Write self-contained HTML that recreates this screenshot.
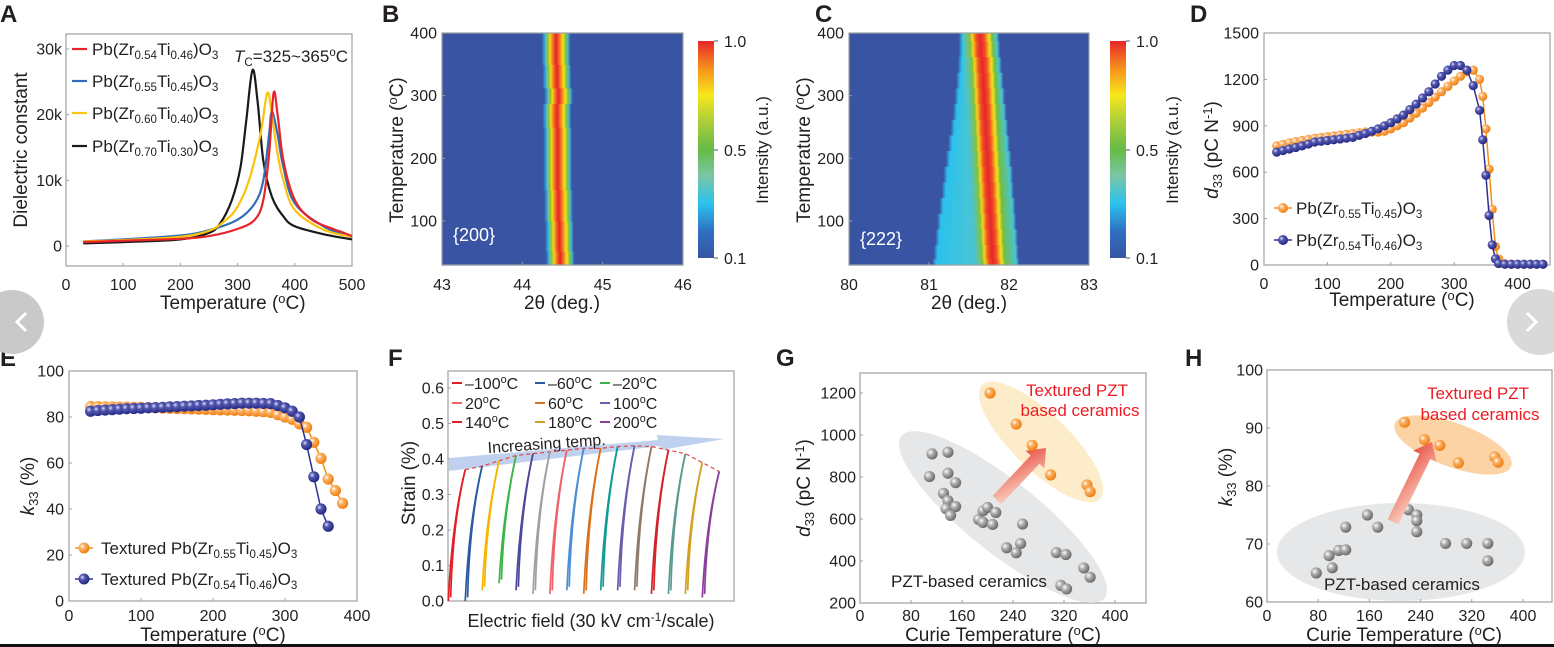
<!DOCTYPE html>
<html><head><meta charset="utf-8"><style>
html,body{margin:0;padding:0;background:#fff;}
svg{display:block;font-family:"Liberation Sans",sans-serif;}
text{fill:#231f20;}
</style></head><body>
<svg id="fig" width="1554" height="647" viewBox="0 0 1554 647" xmlns="http://www.w3.org/2000/svg">
<defs>
<radialGradient id="gOr" cx="35%" cy="35%" r="65%"><stop offset="0" stop-color="#fff"/><stop offset="0.35" stop-color="#fbb266"/><stop offset="1" stop-color="#f07f10"/></radialGradient>
<radialGradient id="gBl" cx="35%" cy="35%" r="65%"><stop offset="0" stop-color="#dfe0f5"/><stop offset="0.35" stop-color="#5458b0"/><stop offset="1" stop-color="#232a84"/></radialGradient>
<radialGradient id="gGr" cx="35%" cy="35%" r="65%"><stop offset="0" stop-color="#fff"/><stop offset="0.4" stop-color="#b0b0b0"/><stop offset="1" stop-color="#6b6b6b"/></radialGradient>
<linearGradient id="cbar" x1="0" y1="1" x2="0" y2="0"><stop offset="0" stop-color="#3a54a4"/><stop offset="0.12" stop-color="#2f6fc0"/><stop offset="0.25" stop-color="#2bc2ee"/><stop offset="0.38" stop-color="#7cc6a4"/><stop offset="0.5" stop-color="#66bb46"/><stop offset="0.62" stop-color="#a6cc3c"/><stop offset="0.75" stop-color="#f6e81a"/><stop offset="0.87" stop-color="#f7941d"/><stop offset="1" stop-color="#e8252a"/></linearGradient>
<linearGradient id="arrG" x1="0" y1="1" x2="1" y2="0"><stop offset="0" stop-color="#fbe3cf"/><stop offset="1" stop-color="#e8453c"/></linearGradient>
</defs>
</svg>
<script>
// ---------- DATA ----------
const aRedT=[30,100,200,250,300,330,345,355,363,370,380,400,430,470,480,500];
const aRedV=[0.6,0.8,1.1,1.5,2.6,4,7,14,23.3,20,13,7,4,2.5,2.2,1.5];
const aBluT=[30,100,200,250,300,330,345,355,360,370,380,400,450,500];
const aBluV=[0.7,1.0,1.6,2.4,4,6.5,10,17,20.5,17,12,6.5,3,1.3];
const aYelT=[30,100,200,250,280,300,320,340,352,360,370,380,400,450,500];
const aYelV=[0.7,0.9,1.4,2.3,4,6,10,17,23.3,20,14,10,5.5,2.5,1.4];
const aBlkT=[30,100,200,250,270,290,305,315,326,335,345,360,380,400,450,500];
const aBlkV=[0.4,0.6,1.0,2,3.5,7,12,19,26.8,22,13,7.5,4.5,3,1.8,1];
const aXTicks=[0,100,200,300,400,500];
const aYTicks=[0,10,20,30];
const aYLabels=['0','10k','20k','30k'];

const bRowT=[30,75,125,175,225,275,300,325,375,400];
const bCenter=[44.47,44.46,44.45,44.44,44.44,44.43,44.45,44.43,44.42,44.42];
const cRowT=[30,50,75,100,125,150,175,200,225,250,275,300,325,350,375,400];
const cCenter=[81.8,81.79,81.78,81.77,81.76,81.75,81.74,81.73,81.72,81.71,81.7,81.69,81.68,81.67,81.65,81.64];
const cLeft=[81.06,81.08,81.1,81.12,81.15,81.18,81.2,81.23,81.26,81.29,81.32,81.34,81.36,81.38,81.39,81.39];
const cRight=[82.12,82.11,82.1,82.08,82.07,82.05,82.04,82.02,82.0,81.98,81.96,81.94,81.92,81.9,81.88,81.87];

const dOrT=[20,30,40,50,60,70,80,90,100,110,120,130,140,150,160,170,180,190,200,210,220,230,240,250,260,270,280,290,300,310,320,330,340,345,350,355,360,365,370,375,380,390,400,410,420,430,440];
const dOrV=[770,780,790,798,805,812,820,825,830,835,840,845,850,855,860,860,860,865,880,900,920,950,980,1015,1050,1085,1120,1155,1190,1220,1250,1260,1200,1090,880,620,360,120,40,15,8,5,5,5,5,5,5];
const dBlT=[20,30,40,50,60,70,80,90,100,110,120,130,140,150,160,170,180,190,200,210,220,230,240,250,260,270,280,290,300,310,320,330,340,345,350,355,360,365,370,380,390,400,410,420,430,440];
const dBlV=[730,740,750,760,770,782,795,800,805,810,815,820,825,838,850,865,880,900,920,945,970,1005,1040,1080,1120,1170,1220,1260,1290,1290,1260,1160,1000,810,580,320,130,40,10,5,5,5,5,5,5,5];

const eOrT=[30,40,50,60,70,80,90,100,110,120,130,140,150,160,170,180,190,200,210,220,230,240,250,260,270,280,290,300,310,320,330,340,350,360,370,380];
const eOrV=[84.5,84.5,84.4,84.4,84.3,84.3,84.2,84.2,84.1,84.0,83.9,83.8,83.7,83.6,83.5,83.4,83.3,83.2,83.1,83.0,82.9,82.8,82.7,82.5,82.3,82,81,80,79,77,75.5,69,62,53,48,42.5];
const eBlT=[30,40,50,60,70,80,90,100,110,120,130,140,150,160,170,180,190,200,210,220,230,240,250,260,270,280,290,300,310,320,330,340,350,360];
const eBlV=[82.5,82.8,83,83.2,83.4,83.6,83.7,83.8,84,84.1,84.2,84.4,84.5,84.7,84.8,85,85.1,85.3,85.5,85.7,85.8,86,86,86,85.9,85.8,85,84,82.5,80,68,54,40,32.5];

const fPeaks=[0.37,0.38,0.395,0.41,0.415,0.42,0.425,0.43,0.43,0.435,0.437,0.435,0.425,0.415,0.39,0.365];
const fStart=[0.0,0.0,0.03,0.05,0.03,0.02,0.02,0.03,0.02,0.03,0.03,0.03,0.02,0.02,0.02,0.01];
const fColors=['#e31e24','#2b5aa3','#f7b500','#3bb54a','#4b4a9a','#a0a0a0','#f0626a','#4a8fd6','#d9711c','#119c94','#6a5cae','#8d7a6b','#d2232a','#5a9a90','#d4a020','#8a3f9a'];
const fYTicks=[0,0.1,0.2,0.3,0.4,0.5,0.6];

const gGrayT=[113,138,109,138,150,131,138,135,150,142,186,193,200,213,193,208,255,230,252,245,308,323,315,324,351,361];
const gGrayV=[910,918,802,818,773,722,687,649,659,617,598,639,655,631,584,574,576,463,483,439,440,431,284,267,367,323];
const gOrT=[204,245,270,299,356,361];
const gOrV=[1200,1052,951,810,762,730];
const hGrayT=[77,97,102,112,123,123,157,173,221,234,234,234,279,312,345,345];
const hGrayV=[65,68,65.9,68.9,69,72.9,75,72.9,75.9,75,74,72.1,70.1,70.1,70.1,67.1];
const hOrT=[215,246,270,299,356,361];
const hOrV=[91,88,87,84,85,84.1];
const curieTicks=[0,80,160,240,320,400];

// ---------- HELPERS ----------
const NS='http://www.w3.org/2000/svg';
const svg=document.getElementById('fig');
function mk(tag,attrs,parent){const e=document.createElementNS(NS,tag);for(const k in attrs)e.setAttribute(k,attrs[k]);(parent||svg).appendChild(e);return e;}
function txt(parent,x,y,s,size,anchor,name){const t=mk('text',{x:x,y:y,'font-size':size,'text-anchor':anchor||'middle'},parent);t.textContent=s;


return t;}
function rich(parent,x,y,parts,size,anchor,name,rot){
 const t=mk('text',{x:x,y:y,'font-size':size,'text-anchor':anchor||'start'},parent);
 if(rot)t.setAttribute('transform','rotate(-90 '+x+' '+y+')');
 
 
 let state=0;
 parts.forEach(p=>{const ts=mk('tspan',{},t);ts.textContent=p[0];
  const want=p[1];let dy=0;
  if(want===1&&state===0)dy=4; if(want===0&&state===1)dy=-4;
  if(want===2&&state===0)dy=-6; if(want===0&&state===2)dy=6;
  if(want===1&&state===2)dy=10; if(want===2&&state===1)dy=-10;
  if(dy)ts.setAttribute('dy',dy);
  if(want===1||want===2)ts.setAttribute('font-size',size*0.68);
  if(p[2])ts.setAttribute('font-style','italic');
  state=want;});
 return t;}
function group(name){const g=mk('g',{});


return g;}
function box(g,l,t,r,b){const e=mk('rect',{x:l,y:t,width:r-l,height:b-t,fill:'none',stroke:'#9d9fa2','stroke-width':1.2},g);

}
function xTicks(g,vals,labels,xm,b,ly,size){vals.forEach((v,i)=>{const x=xm(v);
 const tk=mk('line',{x1:x,x2:x,y1:b,y2:b-3,stroke:'#9d9fa2'},g);
 
 
 txt(g,x,ly,labels[i],size||16,'middle','x-tick-label');});}
function yTicks(g,vals,labels,ym,l,lx,size){vals.forEach((v,i)=>{const y=ym(v);
 const tk=mk('line',{x1:l,x2:l+3,y1:y,y2:y,stroke:'#9d9fa2'},g);
 
 
 txt(g,lx,y+5.5,labels[i],size||16,'end','y-tick-label');});}
function line(g,T,V,xm,ym,color,w,name){const d=T.map((t,i)=>(i?'L':'M')+xm(t).toFixed(1)+' '+ym(V[i]).toFixed(1)).join(' ');
 const p=mk('path',{d:d,fill:'none',stroke:color,'stroke-width':w||2,'stroke-linejoin':'round'},g);
 
 return p;}
function smooth(g,T,V,xm,ym,color,w,name){const P=T.map((t,i)=>[xm(t),ym(V[i])]);
 let d='M'+P[0][0].toFixed(1)+' '+P[0][1].toFixed(1);
 for(let i=0;i<P.length-1;i++){const p0=P[Math.max(0,i-1)],p1=P[i],p2=P[i+1],p3=P[Math.min(P.length-1,i+2)];
  const c1=[p1[0]+(p2[0]-p0[0])/6,p1[1]+(p2[1]-p0[1])/6],c2=[p2[0]-(p3[0]-p1[0])/6,p2[1]-(p3[1]-p1[1])/6];
  d+=' C'+c1.map(v=>v.toFixed(1)).join(' ')+' '+c2.map(v=>v.toFixed(1)).join(' ')+' '+p2[0].toFixed(1)+' '+p2[1].toFixed(1);}
 const p=mk('path',{d:d,fill:'none',stroke:color,'stroke-width':w||2,'stroke-linejoin':'round'},g);
 
 return p;}
function dots(g,T,V,xm,ym,fill,r,name){T.forEach((t,i)=>{const c=mk('circle',{cx:xm(t),cy:ym(V[i]),r:r,fill:fill},g);
 
 });}
function letter(x,y,s){const t=txt(svg,x,y,s,24,'start','panel-letter-'+s.toLowerCase());t.setAttribute('font-weight','bold');}
function jet(v){const st=[[0,[58,84,164]],[0.12,[47,111,192]],[0.25,[43,194,238]],[0.38,[124,198,164]],[0.5,[102,187,70]],[0.62,[166,204,60]],[0.75,[246,232,26]],[0.87,[247,148,29]],[1,[232,37,42]]];
 for(let i=1;i<st.length;i++){if(v<=st[i][0]){const a=st[i-1],b=st[i],f=(v-a[0])/(b[0]-a[0]);return 'rgb('+a[1].map((c,k)=>Math.round(c+(b[1][k]-c)*f)).join(',')+')';}}return 'rgb(232,37,42)';}
let gid=0;
function heatRow(g,l,r,xmin,xmax,y0,y1,left,center,right,shoulder,gw,rw){
 const id='hg'+(gid++);const lg=mk('linearGradient',{id:id,gradientUnits:'userSpaceOnUse',x1:l,x2:r,y1:0,y2:0},svg.querySelector('defs'));
 const stops=[[left-0.02,0],[left+0.03,0.25],[center-gw,shoulder],[center-0.08-rw,0.55],[center-0.05-rw,0.78],[center-rw,0.95],[center,1],[center+rw,0.95],[center+0.06+rw,0.76],[center+0.1+rw,0.52],[right-0.03,0.3],[right+0.01,0]];
 stops.forEach(s=>{mk('stop',{offset:Math.max(0,Math.min(1,(s[0]-xmin)/(xmax-xmin))),'stop-color':jet(s[1])},lg);});
 const rc=mk('rect',{x:l,y:Math.min(y0,y1),width:r-l,height:Math.abs(y1-y0)+0.6,fill:'url(#'+id+')'},g);
 
 }
function colorbar(g,x,lab){const r=mk('rect',{x:x,y:41,width:16,height:217,fill:'url(#cbar)'},g);
 
 
 [['1.0',41],['0.5',150],['0.1',258]].forEach(p=>{mk('line',{x1:x+16,x2:x+20,y1:p[1],y2:p[1],stroke:'#555'},g);txt(g,x+26,p[1]+6,p[0],16,'start','colorbar-tick-label');});
 const t=txt(g,lab,150,'Intensity (a.u.)',17,'middle','colorbar-title');t.setAttribute('transform','rotate(-90 '+lab+' 150)');}

// ---------- PANEL A ----------
(function(){const g=group('panel-a-dielectric');
 const xm=v=>66+v*0.572, ym=v=>246-v*6.567;
 box(g,66,34,352,266);
 xTicks(g,aXTicks,aXTicks.map(String),xm,266,290);
 yTicks(g,aYTicks,aYLabels,ym,66,62);
 smooth(g,aBlkT,aBlkV,xm,ym,'#1a1a1a',2.2,'series-pzt-70-30');
 smooth(g,aBluT,aBluV,xm,ym,'#2f6eb5',2.2,'series-pzt-55-45');
 smooth(g,aYelT,aYelV,xm,ym,'#fcc30b',2.2,'series-pzt-60-40');
 smooth(g,aRedT,aRedV,xm,ym,'#e8232a',2.2,'series-pzt-54-46');
 const leg=[['0.54','0.46','#e8232a',49],['0.55','0.45','#2f6eb5',81],['0.60','0.40','#fcc30b',113],['0.70','0.30','#1a1a1a',146]];
 leg.forEach(L=>{const ln=mk('line',{x1:72,x2:87,y1:L[3],y2:L[3],stroke:L[2],'stroke-width':2.2},g);
  
  
  rich(g,92,L[3]+6,[['Pb(Zr',0],[L[0],1],['Ti',0],[L[1],1],[')O',0],['3',1]],17,'start','legend-entry');});
 rich(g,234,62,[['T',0,1],['C',1],['=325~365',0],['o',2],['C',0]],17,'start','tc-annotation');
 rich(g,160,309,[['Temperature (',0],['o',2],['C)',0]],19,'start','x-axis-title');
 txt(g,27,150,'Dielectric constant',19,'middle','y-axis-title').setAttribute('transform','rotate(-90 27 150)');
})();
letter(0,22,'A');

// ---------- PANEL B ----------
(function(){const g=group('panel-b-xrd-200');
 const l=442,r=683,xm=v=>l+(v-43)*(r-l)/3, ym=v=>33+(400-v)*0.6267;
 mk('rect',{x:l,y:33,width:r-l,height:232,fill:'#3a54a4'},g);
 bRowT.forEach((T,i)=>{const y0=i===0?265:ym((bRowT[i-1]+T)/2), y1=i===bRowT.length-1?33:ym((T+bRowT[i+1])/2);
  heatRow(g,l,r,43,46,y0,y1,bCenter[i]-0.16,bCenter[i],bCenter[i]+0.17,0.4,0.13,0.025);});
 box(g,l,33,r,265);
 xTicks(g,[43,44,45,46],['43','44','45','46'],xm,265,290);
 yTicks(g,[100,200,300,400],['100','200','300','400'],ym,l,437);
 const t=txt(g,453,241,'{200}',18,'start','peak-label-200');t.style.fill='#fff';
 txt(g,562,309,'2θ (deg.)',19,'middle','x-axis-title');
 rich(g,403,150,[['Temperature (',0],['o',2],['C)',0]],19,'middle','y-axis-title',true);
 colorbar(g,698,768);
})();
letter(382,22,'B');

// ---------- PANEL C ----------
(function(){const g=group('panel-c-xrd-222');
 const l=849,r=1089,xm=v=>l+(v-80)*(r-l)/3, ym=v=>33+(400-v)*0.6267;
 mk('rect',{x:l,y:33,width:r-l,height:232,fill:'#3a54a4'},g);
 cRowT.forEach((T,i)=>{const y0=i===0?265:ym((cRowT[i-1]+T)/2), y1=i===cRowT.length-1?33:ym((T+cRowT[i+1])/2);
  heatRow(g,l,r,80,83,y0,y1,cLeft[i],cCenter[i],cRight[i],0.3,0.22,0.05);});
 box(g,l,33,r,265);
 xTicks(g,[80,81,82,83],['80','81','82','83'],xm,265,290);
 yTicks(g,[100,200,300,400],['100','200','300','400'],ym,l,844);
 const t=txt(g,860,245,'{222}',18,'start','peak-label-222');t.style.fill='#fff';
 txt(g,969,309,'2θ (deg.)',19,'middle','x-axis-title');
 rich(g,810,150,[['Temperature (',0],['o',2],['C)',0]],19,'middle','y-axis-title',true);
 colorbar(g,1110,1178);
})();
letter(815,22,'C');

// ---------- PANEL D ----------
(function(){const g=group('panel-d-d33');
 const xm=v=>1264+v*0.634, ym=v=>265-v*0.15467;
 box(g,1264,33,1550,265);
 xTicks(g,[0,100,200,300,400],['0','100','200','300','400'],xm,265,289);
 yTicks(g,[0,300,600,900,1200,1500],['0','300','600','900','1200','1500'],ym,1264,1259);
 line(g,dOrT,dOrV,xm,ym,'#f39019',1.5,'series-pzt-55-45-line');
 dots(g,dOrT,dOrV,xm,ym,'url(#gOr)',4.6,'pzt-55-45-point');
 line(g,dBlT,dBlV,xm,ym,'#2e3192',1.5,'series-pzt-54-46-line');
 dots(g,dBlT,dBlV,xm,ym,'url(#gBl)',4.6,'pzt-54-46-point');
 [['0.55','0.45','#f39019','url(#gOr)',208],['0.54','0.46','#2e3192','url(#gBl)',240]].forEach(L=>{
  mk('line',{x1:1274,x2:1292,y1:L[4],y2:L[4],stroke:L[2],'stroke-width':1.5},g);
  const c=mk('circle',{cx:1283,cy:L[4],r:5,fill:L[3]},g);
  
  
  rich(g,1296,L[4]+6,[['Pb(Zr',0],[L[0],1],['Ti',0],[L[1],1],[')O',0],['3',1]],17,'start','legend-entry');});
 rich(g,1402,306,[['Temperature (',0],['o',2],['C)',0]],19,'middle','x-axis-title');
 rich(g,1218,150,[['d',0,1],['33',1],[' (pC N',0],['-1',2],[')',0]],19,'middle','y-axis-title',true);
})();
letter(1190,22,'D');

// ---------- PANEL E ----------
(function(){const g=group('panel-e-k33');
 const xm=v=>69+v*0.72, ym=v=>601-v*2.3;
 box(g,69,371,357,601);
 xTicks(g,[0,100,200,300,400],['0','100','200','300','400'],xm,601,621);
 yTicks(g,[0,20,40,60,80,100],['0','20','40','60','80','100'],ym,69,64);
 line(g,eOrT,eOrV,xm,ym,'#f39019',1.5,'series-textured-55-45-line');
 dots(g,eOrT,eOrV,xm,ym,'url(#gOr)',5.6,'textured-55-45-point');
 line(g,eBlT,eBlV,xm,ym,'#2e3192',1.5,'series-textured-54-46-line');
 dots(g,eBlT,eBlV,xm,ym,'url(#gBl)',5.6,'textured-54-46-point');
 [['0.55','0.45','#f39019','url(#gOr)',548],['0.54','0.46','#2e3192','url(#gBl)',579]].forEach(L=>{
  mk('line',{x1:75,x2:93,y1:L[4],y2:L[4],stroke:L[2],'stroke-width':1.5},g);
  const c=mk('circle',{cx:84,cy:L[4],r:5.5,fill:L[3]},g);
  
  
  rich(g,101,L[4]+6,[['Textured Pb(Zr',0],[L[0],1],['Ti',0],[L[1],1],[')O',0],['3',1]],17,'start','legend-entry');});
 rich(g,213,641,[['Temperature (',0],['o',2],['C)',0]],19,'middle','x-axis-title');
 rich(g,34,486,[['k',0,1],['33',1],[' (%)',0]],19,'middle','y-axis-title',true);
})();
letter(0,366,'E');

// ---------- PANEL F ----------
(function(){const g=group('panel-f-strain');
 const l=448,r=734,ux=(r-l-10)/16.3, xm=v=>l+0.3+v*ux, ym=v=>601-v*355;
 box(g,l,371,r,601);
 yTicks(g,fYTicks,fYTicks.map(v=>v.toFixed(1)),ym,l,444);
 const band=mk('polygon',{points:[[l+1,458],[l+1,471],[xm(12.5),446],[xm(12.6),450],[xm(16.3),439],[xm(12.3),435],[xm(12.4),440]].map(p=>p.join(',')).join(' '),fill:'#b4c9ec',opacity:0.85},g);
 
 
 const it=txt(g,547,449,'Increasing temp.',16,'middle','increasing-temp-label');it.setAttribute('transform','rotate(-4 547 449)');
 const tops=fPeaks.map((p,i)=>[xm(i+1),ym(p)]);
 const dl=mk('polyline',{points:tops.map(p=>p.join(',')).join(' '),fill:'none',stroke:'#e8453c','stroke-width':1.2,'stroke-dasharray':'4,3'},g);
 
 
 fPeaks.forEach((p,i)=>{[0,0.14].forEach((off,k)=>{
  const x0=xm(i+off),y0=ym(fStart[i]+k*0.01),x1=xm(i+1),y1=ym(p);
  const cx=xm(i+off+(k?0.12:0.22)),cy=ym(p*0.6);
  const c=mk('path',{d:'M'+x0+' '+y0+' Q'+cx+' '+cy+' '+x1+' '+y1,fill:'none',stroke:fColors[i],'stroke-width':1.7},g);
  
  });});
 const legT=[['–100','#e31e24'],['–60','#2b5aa3'],['–20','#3bb54a'],['20','#f0626a'],['60','#d9711c'],['100','#6a5cae'],['140','#e31e24'],['180','#d4a020'],['200','#8a3f9a']];
 legT.forEach((L,i)=>{const x=[452,535,600][i%3],y=[383,403,422][Math.floor(i/3)];
  mk('line',{x1:x,x2:x+10,y1:y,y2:y,stroke:L[1],'stroke-width':2},g);
  rich(g,x+13,y+6,[[L[0],0],['o',2],['C',0]],16,'start','legend-entry');});
 rich(g,591,627,[['Electric field (30 kV cm',0],['-1',2],['/scale)',0]],18,'middle','x-axis-title');
 txt(g,415,483,'Strain (%)',19,'middle','y-axis-title').setAttribute('transform','rotate(-90 415 483)');
})();
letter(388,366,'F');

// ---------- PANEL G ----------
function arrow(g,x0,y0,x1,y1,name){const a=Math.atan2(y1-y0,x1-x0),len=Math.hypot(x1-x0,y1-y0);
 const p=mk('polygon',{points:'0,-6 '+(len-16)+',-6 '+(len-16)+',-13 '+len+',0 '+(len-16)+',13 '+(len-16)+',6 0,6',fill:'url(#arrG)',transform:'translate('+x0+' '+y0+') rotate('+(a*180/Math.PI)+')'},g);
 
 }
function ell(g,cx,cy,rx,ry,ang,fill,name){const e=mk('ellipse',{cx:cx,cy:cy,rx:rx,ry:ry,fill:fill,transform:'rotate('+ang+' '+cx+' '+cy+')'},g);
 
 }
(function(){const g=group('panel-g-d33-vs-tc');
 const xm=v=>860+v*0.6375, ym=v=>603-(v-200)*0.21;
 box(g,860,373,1146,603);
 ell(g,1003,517,130,36,38.6,'#e6e7e8','pzt-region');
 ell(g,1041,442,82,28,44,'#fdecc9','textured-region');
 xTicks(g,curieTicks,curieTicks.map(String),xm,603,621);
 yTicks(g,[200,400,600,800,1000,1200],['200','400','600','800','1000','1200'],ym,860,856);
 dots(g,gGrayT,gGrayV,xm,ym,'url(#gGr)',5.6,'pzt-point');
 arrow(g,997,500,1046,448,'improvement-arrow');
 dots(g,gOrT,gOrV,xm,ym,'url(#gOr)',5.6,'textured-point');
 const t1=txt(g,1077,396,'Textured PZT',17,'middle','textured-label');t1.style.fill='#ed1c24';
 const t2=txt(g,1080,416,'based ceramics',17,'middle','textured-label');t2.style.fill='#ed1c24';
 txt(g,969,587,'PZT-based ceramics',17,'middle','pzt-label');
 rich(g,1003,641,[['Curie Temperature (',0],['o',2],['C)',0]],19,'middle','x-axis-title');
 rich(g,810,488,[['d',0,1],['33',1],[' (pC N',0],['-1',2],[')',0]],19,'middle','y-axis-title',true);
})();
letter(776,366,'G');

// ---------- PANEL H ----------
(function(){const g=group('panel-h-k33-vs-tc');
 const xm=v=>1267+v*0.64, ym=v=>602-(v-60)*5.8;
 box(g,1267,370,1552,602);
 ell(g,1401,552,124,49,0,'#e6e7e8','pzt-region');
 ell(g,1453,445,62,22,20,'#fbd3a5','textured-region');
 xTicks(g,curieTicks,curieTicks.map(String),xm,602,621);
 yTicks(g,[60,70,80,90,100],['60','70','80','90','100'],ym,1267,1263);
 dots(g,hGrayT,hGrayV,xm,ym,'url(#gGr)',5.6,'pzt-point');
 arrow(g,1393,522,1432,442,'improvement-arrow');
 dots(g,hOrT,hOrV,xm,ym,'url(#gOr)',5.6,'textured-point');
 const t1=txt(g,1478,399,'Textured PZT',17,'middle','textured-label');t1.style.fill='#ed1c24';
 const t2=txt(g,1480,420,'based ceramics',17,'middle','textured-label');t2.style.fill='#ed1c24';
 txt(g,1402,590,'PZT-based ceramics',17,'middle','pzt-label');
 rich(g,1404,641,[['Curie Temperature (',0],['o',2],['C)',0]],19,'middle','x-axis-title');
 rich(g,1232,477,[['k',0,1],['33',1],[' (%)',0]],19,'middle','y-axis-title',true);
})();
letter(1185,366,'H');

// ---------- NAV / BOTTOM RULE ----------
(function(){
 const l=mk('circle',{cx:12,cy:322,r:32,fill:'#c9c9c9'});
 
 
 const lc=mk('path',{d:'M26 313 L17 322 L26 331',fill:'none',stroke:'#fff','stroke-width':3});
 
 
 const r=mk('circle',{cx:1540,cy:322,r:33,fill:'#d9d9d9'});
 
 
 const rc=mk('path',{d:'M1527 313 L1536 322 L1527 331',fill:'none',stroke:'#fff','stroke-width':3});
 
 
 const b=mk('rect',{x:0,y:644,width:1554,height:3,fill:'#111'});
 
 
})();
</script>
</body></html>
